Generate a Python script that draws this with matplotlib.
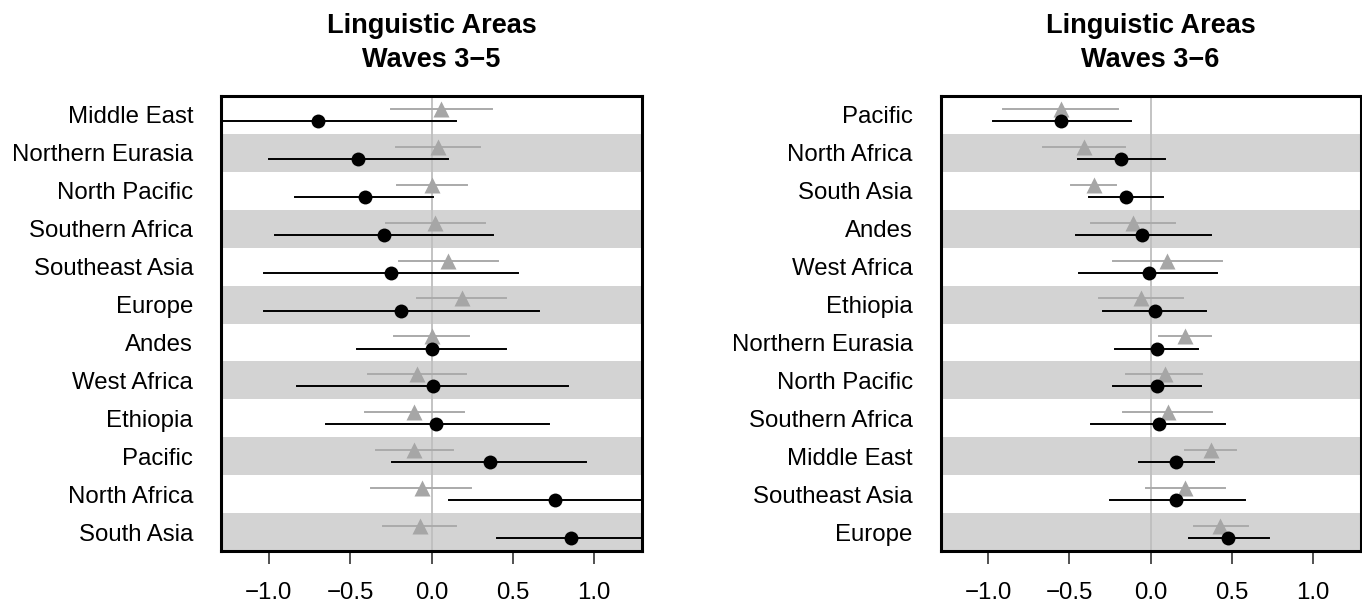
import matplotlib.pyplot as plt

plt.rcParams['font.family'] = ['Liberation Sans', 'DejaVu Sans']

# left panel: Waves 3-5
areas_35 = ['Middle East', 'Northern Eurasia', 'North Pacific', 'Southern Africa',
            'Southeast Asia', 'Europe', 'Andes', 'West Africa', 'Ethiopia',
            'Pacific', 'North Africa', 'South Asia']
black_est_35 = [-0.70, -0.45, -0.41, -0.29, -0.25, -0.19, 0.00, 0.01, 0.03, 0.36, 0.76, 0.86]
black_lo_35 = [-1.45, -1.00, -0.84, -0.96, -1.03, -1.03, -0.46, -0.83, -0.65, -0.24, 0.11, 0.40]
black_hi_35 = [0.15, 0.10, 0.01, 0.38, 0.53, 0.66, 0.46, 0.84, 0.72, 0.95, 1.42, 1.35]
gray_est_35 = [0.06, 0.04, 0.00, 0.02, 0.10, 0.19, 0.00, -0.09, -0.11, -0.11, -0.06, -0.07]
gray_lo_35 = [-0.25, -0.22, -0.21, -0.28, -0.20, -0.09, -0.23, -0.39, -0.41, -0.34, -0.37, -0.30]
gray_hi_35 = [0.37, 0.30, 0.22, 0.33, 0.41, 0.46, 0.23, 0.21, 0.20, 0.13, 0.24, 0.15]

# right panel: Waves 3-6
areas_36 = ['Pacific', 'North Africa', 'South Asia', 'Andes', 'West Africa', 'Ethiopia',
            'Northern Eurasia', 'North Pacific', 'Southern Africa', 'Middle East',
            'Southeast Asia', 'Europe']
black_est_36 = [-0.55, -0.18, -0.15, -0.05, -0.01, 0.03, 0.04, 0.04, 0.05, 0.16, 0.16, 0.48]
black_lo_36 = [-0.97, -0.45, -0.38, -0.46, -0.44, -0.29, -0.22, -0.23, -0.37, -0.07, -0.25, 0.24]
black_hi_36 = [-0.12, 0.09, 0.08, 0.37, 0.41, 0.34, 0.29, 0.31, 0.46, 0.39, 0.58, 0.73]
gray_est_36 = [-0.55, -0.41, -0.35, -0.11, 0.10, -0.06, 0.21, 0.09, 0.11, 0.37, 0.21, 0.43]
gray_lo_36 = [-0.91, -0.66, -0.49, -0.37, -0.23, -0.32, 0.05, -0.15, -0.17, 0.21, -0.03, 0.27]
gray_hi_36 = [-0.20, -0.16, -0.21, 0.15, 0.44, 0.20, 0.37, 0.32, 0.38, 0.53, 0.46, 0.60]

titles = ['Linguistic Areas\nWaves 3\u22125', 'Linguistic Areas\nWaves 3\u22126']

fig = plt.figure(figsize=(13.62, 6.09), dpi=100)
ax1 = fig.add_axes([221 / 1362, 58 / 609, 421 / 1362, 455 / 609])
ax2 = fig.add_axes([940.5 / 1362, 58 / 609, 420 / 1362, 455 / 609])

panels = [
    (ax1, areas_35, black_est_35, black_lo_35, black_hi_35, gray_est_35, gray_lo_35, gray_hi_35),
    (ax2, areas_36, black_est_36, black_lo_36, black_hi_36, gray_est_36, gray_lo_36, gray_hi_36),
]

off = 0.16
for i, (ax, areas, be, bl, bh, ge, gl, gh) in enumerate(panels):
    n = len(areas)
    ys = list(range(1, n + 1))
    for y in ys:
        if y % 2 == 0:
            ax.axhspan(y - 0.5, y + 0.5, color='#d3d3d3', lw=0, zorder=0)
    ax.axvline(0, color='#bebebe', lw=1.3, zorder=1)
    for y, e, lo, hi in zip(ys, ge, gl, gh):
        ax.plot([lo, hi], [y - off, y - off], color='#aaaaaa', lw=1.4, zorder=2)
        ax.plot(e, y - off, marker='^', ms=11, color='#a6a6a6', mec='none', zorder=3)
    for y, e, lo, hi in zip(ys, be, bl, bh):
        ax.plot([lo, hi], [y + off, y + off], color='black', lw=1.4, zorder=4)
        ax.plot(e, y + off, marker='o', ms=10, color='black', mec='none', zorder=5)
    ax.set_xlim(-1.295, 1.295)
    ax.set_ylim(n + 0.5, 0.5)
    ax.set_yticks(ys)
    ax.set_yticklabels(areas, fontsize=17.3)
    ax.set_xticks([-1.0, -0.5, 0.0, 0.5, 1.0])
    ax.tick_params(axis='y', length=0, pad=20)
    ax.tick_params(axis='x', length=9.5, width=1.2, pad=13, labelsize=17.3, colors='#333333', labelcolor='black')
    for s in ax.spines.values():
        s.set_linewidth(2.2)
        s.set_zorder(6)
    ax.set_title(titles[i], fontsize=19.5, fontweight='bold', pad=21, linespacing=1.37)

plt.savefig('out.png', dpi=100)
plt.close()
